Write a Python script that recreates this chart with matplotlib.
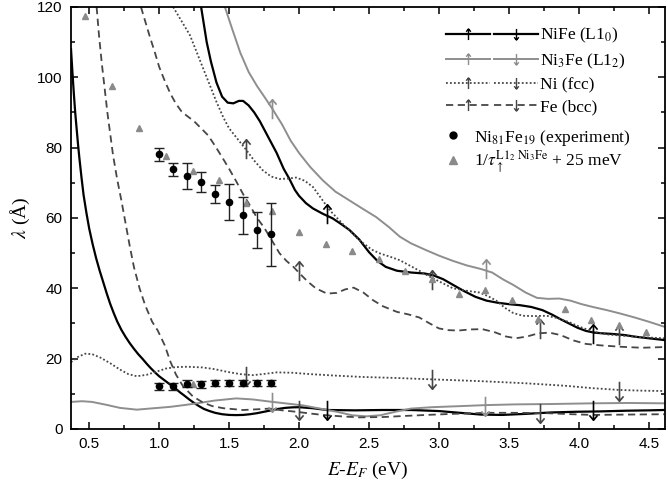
import numpy as np
import matplotlib
matplotlib.use("Agg")
import matplotlib.pyplot as plt
from matplotlib.path import Path
from matplotlib.lines import Line2D
from matplotlib.legend_handler import HandlerTuple

plt.rcParams["mathtext.fontset"] = "stix"

# ---- curves: energy (eV), lambda (Angstrom) ----
nife_up_e = [1.30, 1.34, 1.37, 1.41, 1.45, 1.49, 1.53, 1.57, 1.60, 1.64, 1.68, 1.72, 1.78,
             1.84, 1.89, 1.93, 1.97, 2.00, 2.05, 2.10, 2.17, 2.24, 2.30, 2.36, 2.43, 2.50,
             2.56, 2.62, 2.70, 2.80, 2.90, 2.96, 3.03, 3.10, 3.18, 3.26, 3.34, 3.42, 3.50,
             3.58, 3.66, 3.74, 3.81, 3.87, 3.93, 3.99, 4.05, 4.11, 4.17, 4.25, 4.33, 4.41,
             4.50, 4.61]
nife_up_l = [120, 110, 104.5, 98.5, 94.5, 92.8, 92.6, 93.3, 93.3, 92.0, 90.0, 87.5, 83.0,
             78.5, 74.0, 71.2, 68.0, 66.3, 64.2, 62.7, 61.2, 59.9, 58.3, 56.6, 53.9, 50.3,
             47.8, 46.1, 45.0, 44.5, 44.2, 43.7, 42.6, 41.0, 39.2, 37.6, 36.5, 35.9, 35.5,
             35.2, 34.7, 33.8, 32.5, 31.2, 30.0, 28.8, 27.9, 27.4, 27.2, 27.0, 26.7, 26.2,
             25.8, 25.3]

nife_dn_e = [0.37, 0.38, 0.39, 0.40, 0.41, 0.42, 0.43, 0.445, 0.46, 0.48, 0.50, 0.525,
             0.55, 0.575, 0.60, 0.625, 0.65, 0.675, 0.70, 0.73, 0.76, 0.79, 0.82, 0.85,
             0.88, 0.91, 0.94, 0.97, 1.00, 1.03, 1.06, 1.09, 1.12, 1.15, 1.18, 1.215, 1.25,
             1.285, 1.32, 1.36, 1.40, 1.45, 1.50, 1.55, 1.60, 1.65, 1.70, 1.75, 1.80, 1.85,
             1.90, 1.95, 2.00, 2.10, 2.20, 2.40, 2.60, 2.80, 3.00, 3.15, 3.30, 3.45, 3.62,
             3.80, 3.98, 4.15, 4.34, 4.50, 4.61]
nife_dn_l = [108, 101.5, 95.5, 90.0, 85.5, 81.0, 77.0, 71.5, 66.5, 61.5, 57.0, 52.5,
             48.5, 45.0, 41.8, 38.6, 35.6, 33.0, 30.6, 28.2, 26.2, 24.4, 22.8, 21.3,
             20.0, 18.6, 17.3, 16.1, 15.0, 14.1, 13.2, 12.3, 11.4, 10.4, 9.5, 8.4, 7.4,
             6.5, 5.7, 5.1, 4.6, 4.2, 4.0, 3.95, 4.0, 4.2, 4.5, 4.9, 5.3, 5.7,
             6.0, 6.15, 6.2, 5.9, 5.4, 5.3, 5.4, 5.4, 5.1, 4.6, 4.1, 4.0, 4.3,
             4.7, 4.9, 5.0, 5.2, 5.3, 5.4]

ni3fe_up_e = [1.47, 1.52, 1.58, 1.64, 1.70, 1.76, 1.81, 1.88, 1.94, 2.00, 2.08, 2.17, 2.26,
              2.36, 2.46, 2.55, 2.64, 2.72, 2.80, 2.90, 3.00, 3.10, 3.20, 3.30, 3.38, 3.46,
              3.53, 3.62, 3.70, 3.78, 3.86, 3.94, 4.02, 4.10, 4.20, 4.29, 4.40, 4.50, 4.61]
ni3fe_up_l = [120, 114, 107, 101.5, 97.5, 94.0, 91.0, 86.5, 82.0, 78.5, 74.5, 70.7, 67.5,
              65.0, 62.5, 60.3, 57.5, 54.7, 52.8, 51.0, 49.3, 47.8, 46.5, 45.5, 44.5, 42.5,
              41.0, 38.8, 37.3, 37.0, 37.1, 36.5, 35.5, 34.7, 33.8, 32.9, 31.7, 30.5, 29.1]

ni3fe_dn_e = [0.37, 0.45, 0.52, 0.62, 0.72, 0.84, 0.96, 1.08, 1.18, 1.27, 1.40, 1.55, 1.67,
              1.79, 1.90, 2.03, 2.15, 2.27, 2.38, 2.48, 2.58, 2.70, 2.80, 2.95, 3.15, 3.34,
              3.55, 3.80, 4.10, 4.35, 4.61]
ni3fe_dn_l = [7.7, 7.9, 7.7, 6.9, 6.0, 5.5, 5.9, 6.3, 6.8, 7.3, 8.1, 8.7, 8.4,
              7.8, 7.3, 6.7, 5.8, 4.9, 3.9, 3.6, 3.9, 5.0, 5.8, 6.2, 6.5, 6.8,
              7.0, 7.1, 7.3, 7.4, 7.3]

ni_up_e = [1.10, 1.16, 1.22, 1.27, 1.31, 1.36, 1.41, 1.46, 1.50, 1.56, 1.62, 1.68, 1.74,
           1.80, 1.86, 1.92, 1.98, 2.04, 2.10, 2.16, 2.22, 2.31, 2.43, 2.52, 2.58, 2.65,
           2.72, 2.79, 2.86, 2.93, 3.00, 3.10, 3.20, 3.29, 3.35, 3.41, 3.47, 3.53, 3.60,
           3.68, 3.77, 3.85, 3.93, 4.01, 4.10, 4.20, 4.29, 4.45, 4.61]
ni_up_l = [120, 116, 112, 107, 103, 98, 93, 88.5, 85.5, 82.5, 79.5, 76.3, 73.6,
           71.8, 71.1, 71.2, 71.5, 70.6, 68.8, 65.5, 62.2, 58.4, 53.7, 51.0, 49.9, 49.0,
           48.0, 46.5, 45.0, 43.4, 42.0, 40.0, 39.3, 38.8, 37.8, 36.5, 34.5, 33.0, 32.2,
           32.1, 32.2, 31.5, 30.4, 29.0, 27.7, 26.9, 26.6, 26.1, 25.8]

ni_dn_e = [0.37, 0.42, 0.47, 0.52, 0.58, 0.65, 0.72, 0.78, 0.84, 0.91, 0.98, 1.05, 1.12,
           1.20, 1.31, 1.40, 1.48, 1.58, 1.67, 1.76, 1.84, 1.95, 2.08, 2.25, 2.45, 2.70,
           2.96, 3.30, 3.62, 3.90, 4.10, 4.29, 4.45, 4.61]
ni_dn_l = [19.0, 20.5, 21.4, 21.3, 20.3, 18.7, 16.9, 15.6, 15.0, 15.4, 16.3, 17.2, 17.6,
           17.7, 17.5, 17.0, 16.3, 15.6, 15.3, 15.7, 16.1, 16.0, 15.6, 15.2, 14.8, 14.5,
           14.1, 13.6, 13.0, 12.3, 11.6, 11.1, 10.9, 10.8]

fe_up_e = [0.87, 0.90, 0.93, 0.97, 1.00, 1.04, 1.08, 1.12, 1.16, 1.20, 1.25, 1.30, 1.35,
           1.40, 1.45, 1.50, 1.55, 1.60, 1.65, 1.70, 1.75, 1.80, 1.86, 1.91, 1.96, 2.01,
           2.06, 2.12, 2.20, 2.27, 2.33, 2.39, 2.46, 2.53, 2.60, 2.70, 2.78, 2.86, 2.93,
           3.00, 3.07, 3.14, 3.22, 3.31, 3.40, 3.48, 3.55, 3.63, 3.71, 3.79, 3.87, 3.96,
           4.05, 4.15, 4.29, 4.45, 4.61]
fe_up_l = [120, 116, 112, 107, 103, 99, 95.4, 92.5, 90.3, 89.0, 87.5, 85.5, 83.5,
           80.5, 77.3, 74.0, 70.5, 66.8, 63.5, 60.0, 57.3, 54.0, 50.0, 47.8, 46.1, 44.0,
           42.0, 40.0, 38.5, 38.7, 39.7, 40.2, 38.8, 36.6, 34.9, 33.3, 32.6, 31.7, 30.1,
           28.6, 28.1, 28.0, 28.3, 28.4, 27.5, 26.3, 25.8, 26.3, 27.2, 27.4, 26.7, 25.2,
           24.2, 23.8, 23.4, 23.1, 23.3]

fe_dn_e = [0.553, 0.57, 0.59, 0.61, 0.63, 0.65, 0.67, 0.70, 0.73, 0.76, 0.79, 0.82, 0.86,
           0.90, 0.95, 0.99, 1.04, 1.08, 1.12, 1.17, 1.24, 1.31, 1.38, 1.46, 1.60, 1.70,
           1.79, 1.88, 1.98, 2.08, 2.17, 2.30, 2.43, 2.60, 2.75, 2.91, 3.10, 3.34, 3.55,
           3.77, 3.95, 4.10, 4.35, 4.61]
fe_dn_l = [120, 112, 104, 97, 90, 84, 78, 71, 65, 58.5, 52, 46, 40,
           35.2, 30.5, 28.0, 23.8, 19.2, 15.5, 12.2, 9.3, 7.6, 6.5, 5.9, 5.4, 5.6,
           5.8, 5.3, 4.9, 4.4, 4.0, 3.6, 3.3, 3.4, 3.7, 4.0, 4.3, 4.6, 4.6,
           4.5, 4.2, 4.0, 4.1, 4.2]

# ---- spin arrows drawn on the curves ----
nife_up_arr_e, nife_up_arr_l = [2.20, 4.10], [61.0, 27.0]
ni3fe_up_arr_e, ni3fe_up_arr_l = [1.81, 3.34], [91.0, 45.5]
ni_up_arr_e, ni_up_arr_l = [1.62, 2.95, 4.29], [79.5, 42.3, 26.8]
fe_up_arr_e, fe_up_arr_l = [2.00, 3.72], [45.0, 28.5]
nife_dn_arr_e, nife_dn_arr_l = [2.20, 4.10], [5.5, 5.4]
ni3fe_dn_arr_e, ni3fe_dn_arr_l = [1.81, 3.33], [7.8, 6.6]
ni_dn_arr_e, ni_dn_arr_l = [1.62, 2.95, 4.29], [15.1, 14.1, 10.7]
fe_dn_arr_e, fe_dn_arr_l = [2.00, 3.72], [5.5, 4.6]

# ---- experiment (Ni81Fe19) ----
exp_e = [1.0, 1.1, 1.2, 1.3, 1.4, 1.5, 1.6, 1.7, 1.8]
exp_up = [78.1, 73.8, 72.0, 70.3, 66.8, 64.6, 60.8, 56.7, 55.4]
exp_up_err = [1.9, 1.9, 3.7, 2.8, 2.5, 5.2, 5.3, 5.1, 9.0]
exp_dn = [12.2, 12.1, 12.8, 12.7, 13.1, 13.1, 13.1, 13.1, 13.1]
exp_dn_err = [1.0, 1.0, 1.0, 1.0, 0.9, 0.9, 0.9, 0.9, 0.9]

# ---- 1/tau + 25 meV ----
tau_e = [0.47, 0.66, 0.855, 1.05, 1.24, 1.43, 1.62, 1.81, 2.00, 2.19, 2.38, 2.57, 2.76,
         2.95, 3.14, 3.33, 3.52, 3.71, 3.90, 4.09, 4.29, 4.48, 1.24]
tau_l = [117.5, 97.5, 85.5, 77.6, 73.3, 70.9, 64.2, 62.0, 55.9, 52.7, 50.6, 48.3, 44.9,
         42.6, 38.5, 39.5, 36.6, 31.4, 34.0, 31.0, 29.5, 27.6, 12.9]

BLACK = "#000000"
LGRAY = "#8e8e8e"
DGRAY = "#464646"

up_arrow = Path([(0, -1), (0, 1), (-0.42, 0.5), (0, 1), (0.42, 0.5)],
                [Path.MOVETO, Path.LINETO, Path.MOVETO, Path.LINETO, Path.LINETO])
dn_arrow = Path([(0, 1), (0, -1), (-0.42, -0.5), (0, -1), (0.42, -0.5)],
                [Path.MOVETO, Path.LINETO, Path.MOVETO, Path.LINETO, Path.LINETO])

styles = {
    "nife": dict(color=BLACK, lw=1.6, ls="-"),
    "ni3fe": dict(color=LGRAY, lw=1.4, ls="-"),
    "ni": dict(color=DGRAY, lw=1.3, ls=(0, (1, 1.2))),
    "fe": dict(color=DGRAY, lw=1.3, ls=(0, (4, 2.5))),
}

fig = plt.figure(figsize=(6.68, 4.86), dpi=100)
ax = fig.add_axes([0.1063, 0.1173, 0.889, 0.8683])

curves = [
    ("nife", nife_up_e, nife_up_l, nife_dn_e, nife_dn_l,
     nife_up_arr_e, nife_up_arr_l, nife_dn_arr_e, nife_dn_arr_l),
    ("ni3fe", ni3fe_up_e, ni3fe_up_l, ni3fe_dn_e, ni3fe_dn_l,
     ni3fe_up_arr_e, ni3fe_up_arr_l, ni3fe_dn_arr_e, ni3fe_dn_arr_l),
    ("ni", ni_up_e, ni_up_l, ni_dn_e, ni_dn_l,
     ni_up_arr_e, ni_up_arr_l, ni_dn_arr_e, ni_dn_arr_l),
    ("fe", fe_up_e, fe_up_l, fe_dn_e, fe_dn_l,
     fe_up_arr_e, fe_up_arr_l, fe_dn_arr_e, fe_dn_arr_l),
]
for key, ue, ul, de, dl, uae, ual, dae, dal in curves:
    st = styles[key]
    ax.plot(ue, ul, color=st["color"], lw=st["lw"], ls=st["ls"], zorder=2)
    ax.plot(de, dl, color=st["color"], lw=st["lw"], ls=st["ls"], zorder=2)
    ax.plot(uae, ual, ls="none", marker=up_arrow, ms=14, mew=1.2,
            mec=st["color"], fillstyle="none", zorder=3)
    ax.plot(dae, dal, ls="none", marker=dn_arrow, ms=14, mew=1.2,
            mec=st["color"], fillstyle="none", zorder=3)

ax.plot(tau_e, tau_l, ls="none", marker="^", ms=5, color="#8a8a8a", zorder=4)
ax.errorbar(exp_e, exp_up, yerr=exp_up_err, fmt="o", ms=4.5, color=BLACK,
            ecolor="#222222", elinewidth=1.0, capsize=3.5, capthick=1.0, zorder=5)
ax.errorbar(exp_e, exp_dn, yerr=exp_dn_err, fmt="o", ms=4.5, color=BLACK,
            ecolor="#222222", elinewidth=1.0, capsize=3.5, capthick=1.0, zorder=5)

ax.set_xlim(0.37, 4.615)
ax.set_ylim(0, 120)
ax.set_xticks(np.arange(0.5, 4.51, 0.5))
ax.set_xticks(np.arange(0.5, 4.61, 0.25), minor=True)
ax.set_yticks(np.arange(0, 121, 20))
ax.set_yticks(np.arange(0, 121, 10), minor=True)
ax.set_xticklabels(["%.1f" % v for v in np.arange(0.5, 4.51, 0.5)])
for lab in ax.get_xticklabels() + ax.get_yticklabels():
    lab.set_fontfamily("Liberation Sans")
    lab.set_fontsize(11)
ax.tick_params(which="major", direction="in", length=5, width=1.1, right=True, pad=6)
ax.tick_params(which="minor", direction="in", length=2.7, width=1.1, right=True)
ax.tick_params(axis="x", which="both", top=True)
for s in ax.spines.values():
    s.set_linewidth(1.3)

ax.set_xlabel(r"$E$-$E_F$ (eV)", fontfamily="Liberation Serif", fontsize=14, labelpad=6)
ax.set_ylabel(r"$\lambda$ (Å)", fontfamily="Liberation Serif", fontsize=14, labelpad=4)

# legend for the band-structure curves
line_handles = []
for key in ["nife", "ni3fe", "ni", "fe"]:
    st = styles[key]
    h_up = Line2D([], [], color=st["color"], lw=st["lw"], ls=st["ls"], marker=up_arrow,
                  ms=8, mew=1.0, mec=st["color"], fillstyle="none")
    h_dn = Line2D([], [], color=st["color"], lw=st["lw"], ls=st["ls"], marker=dn_arrow,
                  ms=8, mew=1.0, mec=st["color"], fillstyle="none")
    line_handles.append((h_up, h_dn))
line_labels = [r"NiFe (L1$_0$)", r"Ni$_3$Fe (L1$_2$)", "Ni (fcc)", "Fe (bcc)"]
leg1 = ax.legend(line_handles, line_labels, loc="upper left", bbox_to_anchor=(0.617, 0.975),
                 handler_map={tuple: HandlerTuple(ndivide=None, pad=0.25)},
                 handlelength=5.3, handletextpad=0.1, labelspacing=0.35, borderpad=0,
                 frameon=False, prop={"family": "Liberation Serif", "size": 12.5})
ax.add_artist(leg1)

pt_handles = [Line2D([], [], ls="none", marker="o", ms=5, color=BLACK),
              Line2D([], [], ls="none", marker="^", ms=6, color="#8a8a8a")]
pt_labels = [r"Ni$_{81}$Fe$_{19}$ (experiment)",
             r"1/$\tau_{\uparrow}^{\mathrm{L1_2\ Ni_3Fe}}$ + 25 meV"]
ax.legend(pt_handles, pt_labels, loc="upper left", bbox_to_anchor=(0.611, 0.735),
          handlelength=1.2, handletextpad=0.6, labelspacing=0.05, borderpad=0,
          frameon=False, prop={"family": "Liberation Serif", "size": 12.5})

fig.savefig("out.png", dpi=100)
